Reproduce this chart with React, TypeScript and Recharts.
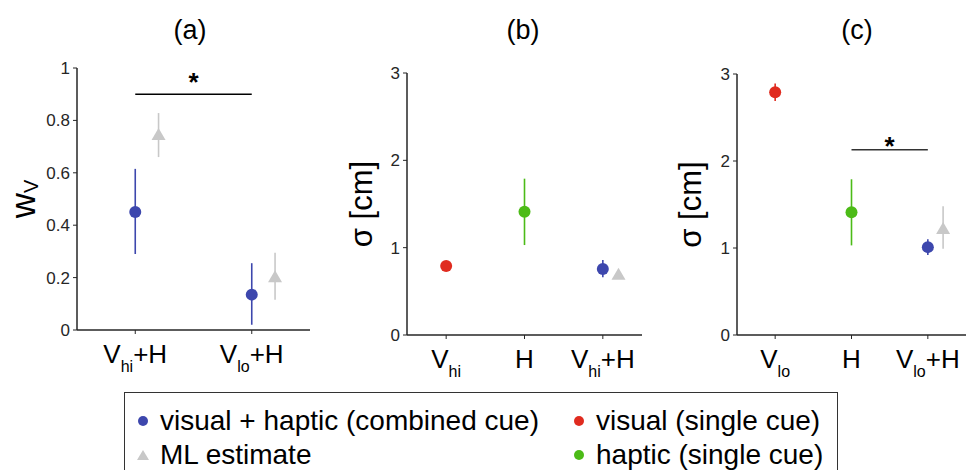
import React from "react";
import {
  ScatterChart,
  Scatter,
  XAxis,
  YAxis,
  ErrorBar,
  ReferenceLine,
  ReferenceDot,
} from "recharts";

const FONT = '"Liberation Sans", Arial, Helvetica, sans-serif';
const INK = "#262626";
const BLUE = "#3d47ad";
const RED = "#e02b1f";
const GREEN = "#4cbb17";
const GRAY = "#c8c8c8";
const ML_OFFSET = 0.2;

// panel (a): visual weight
const catsA = ["V_{hi}+H", "V_{lo}+H"];
const comboA = [0.45, 0.135];
const comboLoA = [0.29, 0.02];
const comboHiA = [0.615, 0.255];
const mlA = [0.748, 0.205];
const mlLoA = [0.66, 0.115];
const mlHiA = [0.828, 0.295];
const ticksA = [0, 0.2, 0.4, 0.6, 0.8, 1];

// panel (b): sigma, high visual reliability
const catsB = ["V_{hi}", "H", "V_{hi}+H"];
const visualB = [0.79];
const visualLoB = [0.76];
const visualHiB = [0.82];
const hapticB = [1.41];
const hapticLoB = [1.03];
const hapticHiB = [1.79];
const comboB = [0.756];
const comboLoB = [0.66];
const comboHiB = [0.86];
const mlB = [0.7];
const mlLoB = [0.65];
const mlHiB = [0.74];

// panel (c): sigma, low visual reliability
const catsC = ["V_{lo}", "H", "V_{lo}+H"];
const visualC = [2.79];
const visualLoC = [2.69];
const visualHiC = [2.89];
const hapticC = [1.41];
const hapticLoC = [1.03];
const hapticHiC = [1.79];
const comboC = [1.01];
const comboLoC = [0.92];
const comboHiC = [1.1];
const mlC = [1.23];
const mlLoC = [0.99];
const mlHiC = [1.48];
const ticksSigma = [0, 1, 2, 3];

type Pt = { x: number; y: number; err: [number, number] };

function rows(start: number, vals: number[], lo: number[], hi: number[], off = 0): Pt[] {
  return vals.map((v, i) => ({
    x: start + i + off,
    y: v,
    err: [v - lo[i], hi[i] - v] as [number, number],
  }));
}

// split "V_{hi}+H" into plain / subscript parts
function parts(label: string) {
  const out: { t: string; sub: boolean }[] = [];
  const re = /_\{([^}]*)\}/g;
  let last = 0;
  let m: RegExpExecArray | null;
  while ((m = re.exec(label))) {
    if (m.index > last) out.push({ t: label.slice(last, m.index), sub: false });
    out.push({ t: m[1], sub: true });
    last = m.index + m[0].length;
  }
  if (last < label.length) out.push({ t: label.slice(last), sub: false });
  return out;
}

function SubText({ label, size, subSize, shift }: { label: string; size: number; subSize: number; shift: number }) {
  const ps = parts(label);
  let down = false;
  return (
    <>
      {ps.map((p, i) => {
        let dy = 0;
        if (p.sub && !down) {
          dy = shift;
          down = true;
        } else if (!p.sub && down) {
          dy = -shift;
          down = false;
        }
        return (
          <tspan key={i} dy={dy} fontSize={p.sub ? subSize : size}>
            {p.t}
          </tspan>
        );
      })}
    </>
  );
}

const makeCatTick = (cats: string[]) => (props: any) => {
  const { x, y, payload } = props;
  const lab = cats[Math.round(payload.value) - 1];
  if (!lab) return null;
  return (
    <text x={x} y={y + 27} textAnchor="middle" fill="#000" fontFamily={FONT}>
      <SubText label={lab} size={26} subSize={16} shift={9} />
    </text>
  );
};

const numTick = (props: any) => (
  <text
    x={props.x}
    y={props.y}
    dy={6}
    textAnchor="end"
    fill={INK}
    fontSize={17}
    fontFamily={FONT}
  >
    {String(props.payload.value)}
  </text>
);

const yLabel = (text: string, dx: number, size: number, subSize: number) => (props: any) => {
  const vb = props.viewBox;
  const cx = vb.x + dx;
  const cy = vb.y + vb.height / 2;
  return (
    <text
      x={cx}
      y={cy}
      transform={`rotate(-90, ${cx}, ${cy})`}
      textAnchor="middle"
      dominantBaseline="central"
      fill="#000"
      fontFamily={FONT}
    >
      <SubText label={text} size={size} subSize={subSize} shift={9} />
    </text>
  );
};

const dot = (color: string) => (props: any) => (
  <circle cx={props.cx} cy={props.cy} r={6} fill={color} />
);

const tri = (props: any) => (
  <polygon
    points={`${props.cx},${props.cy - 6} ${props.cx - 7},${props.cy + 6} ${props.cx + 7},${props.cy + 6}`}
    fill={GRAY}
  />
);

const star = (props: any) => (
  <text
    x={props.cx}
    y={props.cy + 11}
    textAnchor="middle"
    fontSize={26}
    fontWeight="bold"
    fontFamily={FONT}
    fill="#000"
  >
    *
  </text>
);

function Title({ text, left }: { text: string; left: number }) {
  return (
    <div
      style={{
        position: "absolute",
        left: left - 40,
        top: 14,
        width: 80,
        textAlign: "center",
        fontFamily: FONT,
        fontSize: 27,
        lineHeight: "32px",
        color: "#000",
      }}
    >
      {text}
    </div>
  );
}

function LegendMark({ kind, color }: { kind: "dot" | "tri"; color: string }) {
  return (
    <svg width={14} height={14} style={{ marginRight: 10, flex: "none" }}>
      {kind === "dot" ? (
        <circle cx={7} cy={7} r={5} fill={color} />
      ) : (
        <polygon points="7,2 1,12 13,12" fill={color} />
      )}
    </svg>
  );
}

function LegendItem({ kind, color, text }: { kind: "dot" | "tri"; color: string; text: string }) {
  return (
    <div style={{ display: "flex", alignItems: "center", height: 34 }}>
      <LegendMark kind={kind} color={color} />
      <span>{text}</span>
    </div>
  );
}

export default function App() {
  const aCombo = rows(1, comboA, comboLoA, comboHiA);
  const aMl = rows(1, mlA, mlLoA, mlHiA, ML_OFFSET);

  const bVis = rows(1, visualB, visualLoB, visualHiB);
  const bHap = rows(2, hapticB, hapticLoB, hapticHiB);
  const bCombo = rows(3, comboB, comboLoB, comboHiB);
  const bMl = rows(3, mlB, mlLoB, mlHiB, ML_OFFSET);

  const cVis = rows(1, visualC, visualLoC, visualHiC);
  const cHap = rows(2, hapticC, hapticLoC, hapticHiC);
  const cCombo = rows(3, comboC, comboLoC, comboHiC);
  const cMl = rows(3, mlC, mlLoC, mlHiC, ML_OFFSET);

  const errProps = { dataKey: "err", direction: "y" as const, width: 0, strokeWidth: 1.6 };
  const axisLine = { stroke: INK, strokeWidth: 1.5 };

  return (
    <div
      style={{
        position: "absolute",
        left: 0,
        top: 0,
        width: 968,
        height: 470,
        overflow: "hidden",
        background: "#fff",
        fontFamily: FONT,
      }}
    >
      <Title text="(a)" left={190} />
      <Title text="(b)" left={523} />
      <Title text="(c)" left={857} />

      {/* panel (a) */}
      <div style={{ position: "absolute", left: 0, top: 0 }}>
        <ScatterChart width={320} height={400} margin={{ top: 68, right: 10, bottom: 20, left: 0 }}>
          <XAxis
            type="number"
            dataKey="x"
            domain={[0.5, 2.5]}
            ticks={[1, 2]}
            tick={makeCatTick(catsA)}
            tickSize={4}
            height={50}
            stroke={INK}
            axisLine={axisLine}
          />
          <YAxis
            type="number"
            dataKey="y"
            domain={[0, 1]}
            ticks={ticksA}
            tick={numTick}
            tickSize={4}
            tickMargin={3}
            width={77}
            stroke={INK}
            axisLine={axisLine}
            label={{ content: yLabel("w_{V}", 22, 35, 20) }}
          />
          <ReferenceLine
            segment={[
              { x: 1, y: 0.9 },
              { x: 2, y: 0.9 },
            ]}
            stroke="#000"
            strokeWidth={1.5}
          />
          <ReferenceDot x={1.5} y={0.955} r={0} shape={star} />
          <Scatter data={aMl} shape={tri} isAnimationActive={false}>
            <ErrorBar {...errProps} stroke={GRAY} />
          </Scatter>
          <Scatter data={aCombo} shape={dot(BLUE)} isAnimationActive={false}>
            <ErrorBar {...errProps} stroke={BLUE} />
          </Scatter>
        </ScatterChart>
      </div>

      {/* panel (b) */}
      <div style={{ position: "absolute", left: 330, top: 0 }}>
        <ScatterChart width={320} height={400} margin={{ top: 73, right: 8, bottom: 15, left: 0 }}>
          <XAxis
            type="number"
            dataKey="x"
            domain={[0.5, 3.5]}
            ticks={[1, 2, 3]}
            tick={makeCatTick(catsB)}
            tickSize={4}
            height={50}
            stroke={INK}
            axisLine={axisLine}
          />
          <YAxis
            type="number"
            dataKey="y"
            domain={[0, 3]}
            ticks={ticksSigma}
            tick={numTick}
            tickSize={4}
            tickMargin={3}
            width={77}
            stroke={INK}
            axisLine={axisLine}
            label={{ content: yLabel("σ [cm]", 31, 31, 19) }}
          />
          <Scatter data={bMl} shape={tri} isAnimationActive={false}>
            <ErrorBar {...errProps} stroke={GRAY} />
          </Scatter>
          <Scatter data={bVis} shape={dot(RED)} isAnimationActive={false}>
            <ErrorBar {...errProps} stroke={RED} />
          </Scatter>
          <Scatter data={bHap} shape={dot(GREEN)} isAnimationActive={false}>
            <ErrorBar {...errProps} stroke={GREEN} />
          </Scatter>
          <Scatter data={bCombo} shape={dot(BLUE)} isAnimationActive={false}>
            <ErrorBar {...errProps} stroke={BLUE} />
          </Scatter>
        </ScatterChart>
      </div>

      {/* panel (c) */}
      <div style={{ position: "absolute", left: 650, top: 0 }}>
        <ScatterChart width={318} height={400} margin={{ top: 74, right: 2, bottom: 15, left: 0 }}>
          <XAxis
            type="number"
            dataKey="x"
            domain={[0.5, 3.5]}
            ticks={[1, 2, 3]}
            tick={makeCatTick(catsC)}
            tickSize={4}
            height={50}
            stroke={INK}
            axisLine={axisLine}
          />
          <YAxis
            type="number"
            dataKey="y"
            domain={[0, 3]}
            ticks={ticksSigma}
            tick={numTick}
            tickSize={4}
            tickMargin={3}
            width={87}
            stroke={INK}
            axisLine={axisLine}
            label={{ content: yLabel("σ [cm]", 40, 31, 19) }}
          />
          <ReferenceLine
            segment={[
              { x: 2, y: 2.13 },
              { x: 3, y: 2.13 },
            ]}
            stroke="#333"
            strokeWidth={1.5}
          />
          <ReferenceDot x={2.5} y={2.2} r={0} shape={star} />
          <Scatter data={cMl} shape={tri} isAnimationActive={false}>
            <ErrorBar {...errProps} stroke={GRAY} />
          </Scatter>
          <Scatter data={cVis} shape={dot(RED)} isAnimationActive={false}>
            <ErrorBar {...errProps} stroke={RED} />
          </Scatter>
          <Scatter data={cHap} shape={dot(GREEN)} isAnimationActive={false}>
            <ErrorBar {...errProps} stroke={GREEN} />
          </Scatter>
          <Scatter data={cCombo} shape={dot(BLUE)} isAnimationActive={false}>
            <ErrorBar {...errProps} stroke={BLUE} />
          </Scatter>
        </ScatterChart>
      </div>

      {/* legend */}
      <div
        style={{
          position: "absolute",
          left: 124,
          top: 392,
          width: 714,
          height: 100,
          border: "1.5px solid #333",
          boxSizing: "border-box",
          fontSize: 28,
          color: "#000",
          display: "flex",
          paddingLeft: 11,
          paddingTop: 11,
        }}
      >
        <div style={{ width: 436, flex: "none" }}>
          <LegendItem kind="dot" color={BLUE} text="visual + haptic (combined cue)" />
          <LegendItem kind="tri" color={GRAY} text="ML estimate" />
        </div>
        <div>
          <LegendItem kind="dot" color={RED} text="visual (single cue)" />
          <LegendItem kind="dot" color={GREEN} text="haptic (single cue)" />
        </div>
      </div>
    </div>
  );
}
